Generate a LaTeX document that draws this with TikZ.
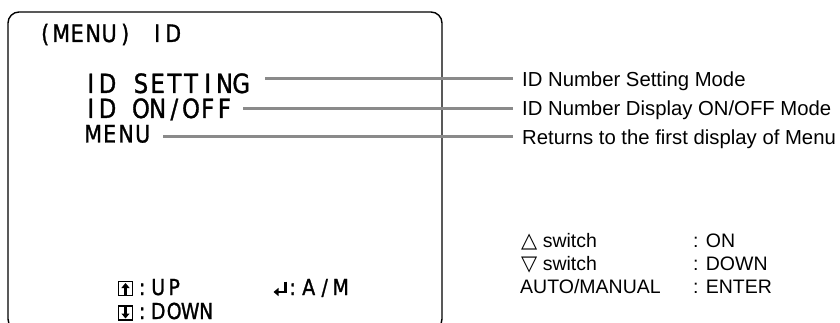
\documentclass[tikz,border=0pt]{standalone}
\usepackage{fontspec}
\setmainfont{Liberation Sans}
\newfontfamily\osdfont[FakeStretch=0.86,FakeBold=1.2]{DejaVu Sans}
\newfontfamily\symfont{DejaVu Sans}
\usetikzlibrary{arrows.meta}

\newlength\cellw
\setlength\cellw{16pt}
\newcommand\cellbox[1]{\makebox[\cellw][c]{#1}}
\def\cellloop#1{\ifx#1\relax\else\cellbox{#1}\expandafter\cellloop\fi}
\newcommand\cells[2]{\setlength\cellw{#1}\cellloop#2\relax}

\definecolor{leadgray}{HTML}{8A8A8A}

\tikzset{
  osd/.style={inner sep=0pt, anchor=base west, font=\osdfont\fontsize{26.5}{26.5}\selectfont},
  osdsmall/.style={osd, font=\osdfont\fontsize{24}{24}\selectfont},
  osdbottom/.style={osd, font=\osdfont\fontsize{22}{22}\selectfont},
  desc/.style={inner sep=0pt, anchor=base west, font=\fontsize{20.3}{20.3}\selectfont},
  legend/.style={inner sep=0pt, anchor=base west, font=\fontsize{19.5}{19.5}\selectfont},
  leader/.style={draw=leadgray, line width=3pt},
  frame/.style={draw=black, line width=1.4pt, rounded corners=11pt},
  icon/.style={line width=1.1pt},
  iconarrow/.style={line width=2.4pt, -{Triangle[length=5pt,width=8pt]}}
}

\begin{document}
\begin{tikzpicture}[x=1pt,y=-1pt]
\useasboundingbox (0,0) rectangle (840,323);
\clip (0,0) rectangle (840,323);

% screen frame
\draw[frame] (8,12) rectangle (442,330);

% screen texts
\node[osdsmall] (title) at (37,42) {\cells{16pt}{(MENU)~ID}};
\node[osd] (s1) at (82.3,93) {\cells{16.7pt}{ID~SETTING}};
\node[osd] (s2) at (82.3,118) {\cells{16.7pt}{ID~ON/OFF}};
\node[osdsmall] (s3) at (84.7,142.5) {\cells{16.5pt}{MENU}};

% bottom keys
\draw[icon] (118.5,281.5) rectangle (132.5,295.5);
\draw[iconarrow] (125.5,294.5) -- (125.5,283);
\draw[icon] (118.5,306) rectangle (132.5,320);
\draw[iconarrow] (125.5,307) -- (125.5,318.5);
\node[osdbottom] (kup) at (134,295) {\cells{16pt}{:UP}};
\node[osdbottom] (kdown) at (134,319) {\cells{16pt}{:DOWN}};
\draw[iconarrow] (285.5,281.5) -- (285.5,292) -- (273.5,292);
\node[osdbottom] (kam) at (284.5,295) {\cells{16pt}{:A/M}};

% descriptions
\node[desc] (d1) at (522,87) {ID Number Setting Mode};
\node[desc] (d2) at (522,116) {ID Number Display ON/OFF Mode};
\node[desc] (d3) at (522,145) {Returns to the first display of Menu};

\coordinate (c1) at (265,79);
\coordinate (c2) at (243,108.3);
\coordinate (c3) at (163,137);
\draw[leader] (c1) -- ([xshift=-9pt]d1.west |- c1);
\draw[leader] (c2) -- ([xshift=-9pt]d2.west |- c2);
\draw[leader] (c3) -- ([xshift=-9pt]d3.west |- c3);

% legend
\node[legend] (g1) at (521,247) {{\symfont\fontsize{21}{21}\selectfont △} switch};
\node[legend] (g2) at (521,270.5) {{\symfont\fontsize{21}{21}\selectfont ▽} switch};
\node[legend] (g3) at (520,293) {AUTO/MANUAL};
\node[legend] (h1) at (693,247) {: ON};
\node[legend] (h2) at (693,270.5) {: DOWN};
\node[legend] (h3) at (693,293) {: ENTER};
\end{tikzpicture}
\end{document}
